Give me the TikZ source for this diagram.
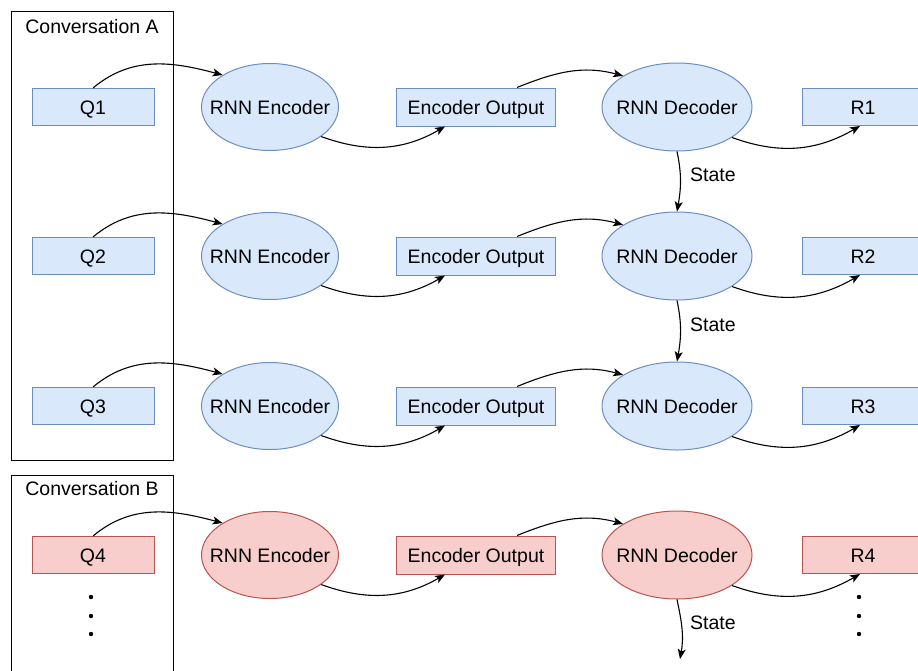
\documentclass[tikz,border=0pt]{standalone}
\usepackage{fontspec}
\setmainfont{Liberation Sans}
\usetikzlibrary{shapes.geometric,arrows.meta}

\definecolor{bluefill}{HTML}{DAE8FC}
\definecolor{bluedraw}{HTML}{6C8EBF}
\definecolor{redfill}{HTML}{F8CECC}
\definecolor{reddraw}{HTML}{B85450}

% ellipse labels are set in a zero-width box so that the given size is kept
\newcommand\ellipsetext[1]{\makebox[0pt][c]{#1}}

\tikzset{
  every node/.style={font=\fontsize{19.5}{23}\selectfont, inner sep=0pt},
  capcentre/.style={text height=14pt, text depth=0pt},
  blockbox/.style={rectangle, draw, line width=1pt, capcentre, minimum width=122pt, minimum height=37pt},
  widebox/.style={blockbox, minimum width=159pt, minimum height=38pt},
  rnnell/.style={ellipse, draw, line width=1pt, capcentre, minimum width=137pt, minimum height=87pt},
  decell/.style={rnnell, minimum width=150pt, minimum height=88pt},
  blue/.style={fill=bluefill, draw=bluedraw},
  red/.style={fill=redfill, draw=reddraw},
  frame/.style={draw, line width=1pt},
  link/.style={draw, line width=1.1pt, -{Stealth[length=10pt,width=8pt,inset=2.5pt]}},
  dotmark/.style={circle, fill, minimum size=4.4pt}
}

\begin{document}
\begin{tikzpicture}[x=1pt,y=-1pt]
\useasboundingbox (0,0) rectangle (918,670);
\clip (0,0) rectangle (918,670);

% conversation frames
\node[frame, minimum width=162pt, minimum height=449pt] (convA) at (92,236) {};
\node[anchor=base] (labA) at (92,33) {Conversation A};
\node[frame, minimum width=162pt, minimum height=220pt] (convB) at (92,585) {};
\node[anchor=base] (labB) at (92,495) {Conversation B};

% one row per question
\foreach \r/\y/\q/\a/\c in {1/107/Q1/R1/blue, 2/256/Q2/R2/blue, 3/406/Q3/R3/blue, 4/555/Q4/R4/red} {
  \node[blockbox, \c] (q\r) at (93,\y) {\q};
  \node[rnnell, \c] (enc\r) at (270,\y) {\ellipsetext{RNN Encoder}};
  \node[widebox, \c] (out\r) at (476,\y) {Encoder Output};
  \node[decell, \c] (dec\r) at (677,\y) {\ellipsetext{RNN Decoder}};
  \node[blockbox, \c] (res\r) at (863,\y) {\a};
  \draw[link] (q\r.north) to[out=40, in=165] (enc\r.146);
  \draw[link] (enc\r.330) to[out=-20, in=210] ([xshift=-31pt]out\r.south);
  \draw[link] ([xshift=41pt]out\r.north) to[out=22, in=165] (dec\r.150);
  \draw[link] (dec\r.331) to[out=-20, in=210] ([xshift=-3pt]res\r.south);
}

% decoder state passed along the conversation
\draw[link] (dec1.south) to[out=-78, in=80] (dec2.north);
\node[anchor=west] (st1) at (690,175) {State};
\draw[link] (dec2.south) to[out=-78, in=80] (dec3.north);
\node[anchor=west] (st2) at (690,325) {State};
\coordinate (stEnd) at (680,659);
\draw[link] (dec4.south) to[out=-78, in=80] (stEnd);
\node[anchor=west] (st4) at (690,623) {State};

% continuation marks
\foreach \i/\yy in {1/597, 2/616, 3/634} {
  \node[dotmark] (qd\i) at (91,\yy) {};
  \node[dotmark] (rd\i) at (859,\yy) {};
}
\end{tikzpicture}
\end{document}
